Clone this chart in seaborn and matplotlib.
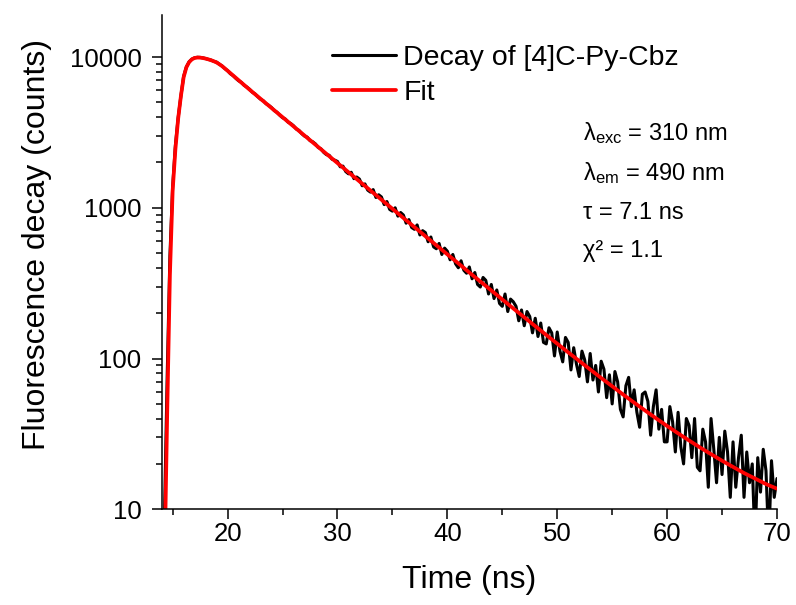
import numpy as np
import pandas as pd
import matplotlib
matplotlib.use("Agg")
import matplotlib.pyplot as plt
import seaborn as sns
from matplotlib.ticker import LogLocator, FixedLocator, NullFormatter, MultipleLocator

# ---------------- data ----------------
data_start = 14.0      # ns, first channel shown
data_step = 0.25       # ns, channel spacing used for the read-off values
decay_counts = [
    1, 9, 75, 480, 1380, 2600, 3950, 5520, 7450, 8600, 9300, 9690,
    9880, 9960, 9940, 9870, 9770, 9640, 9540, 9360, 9250, 8960, 8720, 8380,
    8120, 7745, 7530, 7220,
    6960, 6790, 6490, 6320,
    6110, 5840, 5690, 5450,
    5250, 5130, 4900, 4780,
    4620, 4410, 4300, 4110,
    3960, 3880, 3700, 3620,
    3500, 3330, 3260, 3100,
    2990, 2940, 2790, 2740,
    2650, 2510, 2460, 2330,
    2250, 2230, 2100, 2070,
    2030, 1870, 1890, 1740,
    1680, 1720, 1560, 1600,
    1550, 1400, 1440, 1310,
    1270, 1320, 1170, 1220,
    1180, 1050, 1100, 975,
    950, 1000, 880, 930,
    895, 790, 835, 740,
    720, 770, 660, 705,
    685, 595, 640, 550,
    535, 580, 490, 540,
    515, 452, 490, 425,
    400, 445, 385, 368,
    405, 338, 372, 310,
    298, 345, 330, 268,
    310, 250, 285, 232,
    222, 268, 205, 248,
    238, 222, 178, 210,
    165, 205, 190, 148,
    185, 140, 172, 128,
    125, 160, 148, 104,
    150, 112, 95, 138,
    128, 84, 118, 92,
    76, 112, 98, 70,
    108, 72, 90, 60,
    96, 85, 55, 78,
    50, 82, 70, 46,
    41, 66, 75, 48,
    62, 44, 35, 58,
    60, 52, 31, 48,
    62, 34, 46, 28,
    28, 48, 38, 24,
    44, 26, 20, 40,
    36, 22, 40, 19,
    18, 34, 28, 14,
    40, 25, 15, 30,
    17, 33, 24, 12,
    28, 14, 22, 31,
    12, 24, 15, 20,
    6, 22, 13, 25,
    18, 6, 21, 12,
    16,
]

fit_rise_time = [14.0, 14.25, 14.5, 14.75, 15.0, 15.25, 15.5, 15.75, 16.0,
                 16.25, 16.5, 16.75, 17.0, 17.25, 17.5, 17.75, 18.0, 18.25,
                 18.5, 18.75, 19.0, 19.25, 19.5, 19.75, 20.0]
fit_rise_counts = [0.3, 4, 42, 360, 1300, 2450, 3900, 5500, 7350, 8550, 9250,
                   9650, 9860, 9920, 9910, 9850, 9760, 9650, 9520, 9370, 9200,
                   8960, 8700, 8400, 8110]
fit_tail_time = list(range(21, 71))
fit_tail_counts = [7020, 6078, 5282, 4591, 3990, 3469, 3015, 2620, 2278, 1980,
                   1722, 1497, 1302, 1132, 985, 856, 745, 648, 564, 491,
                   428, 372, 324.5, 283, 246.6, 215, 187.8, 164, 143.4, 125.5,
                   109.9, 96.4, 84.6, 74.3, 65.5, 57.7, 51.0, 45.2, 40.1, 35.7,
                   31.9, 28.6, 25.7, 23.2, 21.0, 19.1, 17.4, 16.0, 14.7, 13.7]

x_major_ticks = [20, 30, 40, 50, 60, 70]
y_major_ticks = [10, 100, 1000, 10000]

annotations = [r"λ$_{\mathregular{exc}}$ = 310 nm",
               r"λ$_{\mathregular{em}}$ = 490 nm",
               "τ = 7.1 ns",
               "χ² = 1.1"]

# ---------------- frames ----------------
data_time = data_start + data_step * np.arange(len(decay_counts))
df_data = pd.DataFrame({"t": data_time, "counts": decay_counts})
df_fit = pd.DataFrame({"t": list(fit_rise_time) + fit_tail_time,
                       "counts": list(fit_rise_counts) + fit_tail_counts})

# ---------------- style ----------------
sns.set_style("ticks")
plt.rcParams["font.family"] = ["Liberation Sans", "DejaVu Sans"]
plt.rcParams["mathtext.fontset"] = "custom"
plt.rcParams["mathtext.rm"] = "Liberation Sans"
plt.rcParams["mathtext.it"] = "Liberation Sans"
plt.rcParams["text.color"] = "black"
plt.rcParams["axes.labelcolor"] = "black"
plt.rcParams["xtick.color"] = "black"
plt.rcParams["ytick.color"] = "black"

fig = plt.figure(figsize=(7.96, 6.05), dpi=100)
ax = fig.add_axes([0.2031, 0.1582, 0.7730, 0.8170])

sns.lineplot(data=df_data, x="t", y="counts", ax=ax, color="black", lw=2.2,
             estimator=None, sort=False, label="Decay of [4]C-Py-Cbz")
sns.lineplot(data=df_fit, x="t", y="counts", ax=ax, color="#ff0000", lw=2.7,
             estimator=None, sort=False, label="Fit")

ax.set_yscale("log")
ax.set_xlim(14.0, 70.0)
ax.set_ylim(10, 19000)

ax.xaxis.set_major_locator(FixedLocator(x_major_ticks))
ax.xaxis.set_minor_locator(MultipleLocator(5))
ax.yaxis.set_major_locator(FixedLocator(y_major_ticks))
ax.yaxis.set_minor_locator(LogLocator(base=10, subs=np.arange(2, 10)))
ax.yaxis.set_minor_formatter(NullFormatter())
ax.set_yticklabels([str(v) for v in y_major_ticks])
ax.set_xticklabels([str(v) for v in x_major_ticks])

for s in ("top", "right"):
    ax.spines[s].set_visible(False)
for s in ("left", "bottom"):
    ax.spines[s].set_linewidth(1.1)
    ax.spines[s].set_color("black")

ax.tick_params(axis="both", which="major", direction="out", length=7,
               width=1.1, labelsize=18.5, colors="black")
ax.tick_params(axis="y", which="major", pad=7.5)
ax.tick_params(axis="x", which="major", pad=2)
ax.tick_params(axis="both", which="minor", direction="out", length=4,
               width=1.1, colors="black")

ax.set_xlabel("Time (ns)", fontsize=23, labelpad=14, color="black")
ax.set_ylabel("Fluorescence decay (counts)", fontsize=23, color="black")
ax.yaxis.set_label_coords(-0.179, 0.535)

leg = ax.legend(loc="upper left", bbox_to_anchor=(0.277, 0.94),
                frameon=False, fontsize=20.5, handlelength=2.25,
                handletextpad=0.25, labelspacing=0.32, borderaxespad=0,
                borderpad=0)
for t in leg.get_texts():
    t.set_color("black")

ypos = [0.761, 0.680, 0.599, 0.522]
for txt, yy in zip(annotations, ypos):
    ax.text(0.685, yy, txt, transform=ax.transAxes, fontsize=17,
            va="center", ha="left", color="black")

fig.savefig("out.png", dpi=100)
